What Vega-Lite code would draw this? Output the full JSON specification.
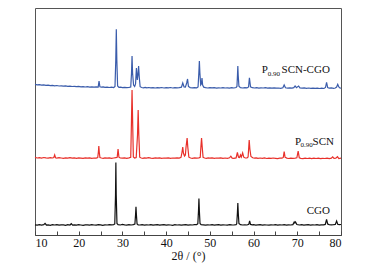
{
"$schema":"https://vega.github.io/schema/vega-lite/v6.json",
"width":306,"height":227,
"autosize":{"type":"none"},
"padding":{"left":35,"top":8,"right":29,"bottom":39},
"background":"white",
"config":{"view":{"stroke":"#555","strokeWidth":1},"font":"Liberation Serif, Times New Roman, serif"},
"datasets":{
"cgo":[
{"x":10.0,"y":10.2},{"x":10.5,"y":9.8},{"x":11.0,"y":10.4},{"x":11.5,"y":9.9},{"x":12.0,"y":10.3},{"x":12.3,"y":11.6},{"x":12.6,"y":10.0},{"x":13.0,"y":10.2},{"x":13.5,"y":9.7},{"x":14.0,"y":10.3},{"x":14.5,"y":10.0},{"x":15.0,"y":10.4},{"x":15.5,"y":9.8},{"x":16.0,"y":10.2},{"x":16.5,"y":10.1},{"x":17.0,"y":9.7},{"x":17.5,"y":10.3},{"x":18.0,"y":10.0},{"x":18.3,"y":11.3},{"x":18.6,"y":9.9},{"x":19.0,"y":10.2},{"x":19.5,"y":9.8},{"x":20.0,"y":10.3},{"x":20.5,"y":10.0},{"x":21.0,"y":9.7},{"x":21.5,"y":10.2},{"x":22.0,"y":10.1},{"x":22.5,"y":9.8},{"x":23.0,"y":10.3},{"x":23.5,"y":10.0},{"x":24.0,"y":9.8},{"x":24.5,"y":10.3},{"x":25.0,"y":10.1},{"x":25.5,"y":9.7},{"x":26.0,"y":10.2},{"x":26.5,"y":10.0},{"x":27.0,"y":10.3},{"x":27.5,"y":10.1},{"x":28.0,"y":10.4},{"x":28.25,"y":11},{"x":28.42,"y":40},{"x":28.5,"y":72.5},{"x":28.58,"y":40},{"x":28.75,"y":11.5},{"x":29.0,"y":10.4},{"x":29.5,"y":10.0},{"x":30.0,"y":10.6},{"x":30.5,"y":10.1},{"x":31.0,"y":9.8},{"x":31.5,"y":10.3},{"x":32.0,"y":10.0},{"x":32.5,"y":10.4},{"x":32.85,"y":11},{"x":33.0,"y":20},{"x":33.1,"y":28.3},{"x":33.2,"y":20},{"x":33.35,"y":11},{"x":33.6,"y":10.2},{"x":34.0,"y":10.0},{"x":34.5,"y":10.3},{"x":35.0,"y":9.8},{"x":35.5,"y":10.2},{"x":36.0,"y":10.0},{"x":36.5,"y":10.4},{"x":37.0,"y":9.8},{"x":37.5,"y":10.1},{"x":38.0,"y":10.3},{"x":38.5,"y":9.8},{"x":39.0,"y":10.1},{"x":39.5,"y":10.3},{"x":40.0,"y":9.9},{"x":40.5,"y":10.2},{"x":41.0,"y":10.0},{"x":41.5,"y":9.7},{"x":42.0,"y":10.3},{"x":42.5,"y":10.0},{"x":43.0,"y":10.2},{"x":43.5,"y":9.8},{"x":44.0,"y":10.1},{"x":44.5,"y":10.3},{"x":45.0,"y":9.9},{"x":45.5,"y":10.2},{"x":46.0,"y":10.0},{"x":46.5,"y":10.3},{"x":47.0,"y":10.4},{"x":47.25,"y":11.2},{"x":47.4,"y":24},{"x":47.5,"y":36.5},{"x":47.6,"y":24},{"x":47.75,"y":11.5},{"x":48.0,"y":10.4},{"x":48.5,"y":10.1},{"x":49.0,"y":9.8},{"x":49.5,"y":10.2},{"x":50.0,"y":10.0},{"x":50.5,"y":10.3},{"x":51.0,"y":9.8},{"x":51.5,"y":10.1},{"x":52.0,"y":10.3},{"x":52.5,"y":9.9},{"x":53.0,"y":10.2},{"x":53.5,"y":10.0},{"x":54.0,"y":9.8},{"x":54.5,"y":10.3},{"x":55.0,"y":10.1},{"x":55.5,"y":10.0},{"x":56.0,"y":10.4},{"x":56.15,"y":11.2},{"x":56.3,"y":22},{"x":56.4,"y":32},{"x":56.5,"y":22},{"x":56.65,"y":11.5},{"x":57.0,"y":10.3},{"x":57.5,"y":10.0},{"x":58.0,"y":10.2},{"x":58.5,"y":10.0},{"x":58.9,"y":10.6},{"x":59.1,"y":14},{"x":59.3,"y":10.6},{"x":59.7,"y":10.1},{"x":60.0,"y":10.3},{"x":60.5,"y":9.9},{"x":61.0,"y":10.1},{"x":61.5,"y":10.3},{"x":62.0,"y":9.9},{"x":62.5,"y":10.2},{"x":63.0,"y":10.0},{"x":63.5,"y":9.8},{"x":64.0,"y":10.2},{"x":64.5,"y":10.0},{"x":65.0,"y":10.3},{"x":65.5,"y":9.9},{"x":66.0,"y":10.2},{"x":66.5,"y":10.0},{"x":67.0,"y":10.3},{"x":67.5,"y":9.9},{"x":68.0,"y":10.2},{"x":68.5,"y":10.0},{"x":69.0,"y":10.4},{"x":69.3,"y":13},{"x":69.45,"y":12},{"x":69.6,"y":13},{"x":69.9,"y":10.5},{"x":70.5,"y":10.0},{"x":71.0,"y":10.3},{"x":71.5,"y":9.9},{"x":72.0,"y":10.1},{"x":72.5,"y":10.3},{"x":73.0,"y":9.9},{"x":73.5,"y":10.2},{"x":74.0,"y":10.0},{"x":74.5,"y":10.3},{"x":75.0,"y":9.9},{"x":75.5,"y":10.2},{"x":76.0,"y":10.1},{"x":76.4,"y":10.6},{"x":76.7,"y":15.5},{"x":76.95,"y":11},{"x":77.3,"y":10.4},{"x":77.8,"y":10.1},{"x":78.3,"y":10.3},{"x":78.7,"y":10.5},{"x":79.0,"y":14},{"x":79.25,"y":10.8},{"x":79.6,"y":10.3},{"x":80.0,"y":10.5}
],
"scn":[
{"x":10.0,"y":77.6},{"x":10.5,"y":77.0},{"x":11.0,"y":77.4},{"x":11.5,"y":76.9},{"x":12.0,"y":77.5},{"x":12.5,"y":77.1},{"x":13.0,"y":76.8},{"x":13.5,"y":77.4},{"x":14.0,"y":77.0},{"x":14.3,"y":77.5},{"x":14.5,"y":80},{"x":14.7,"y":77.3},{"x":15.0,"y":76.9},{"x":15.5,"y":77.3},{"x":16.0,"y":77.0},{"x":16.5,"y":76.7},{"x":17.0,"y":77.2},{"x":17.5,"y":76.9},{"x":18.0,"y":77.3},{"x":18.5,"y":76.8},{"x":19.0,"y":77.1},{"x":19.5,"y":76.7},{"x":20.0,"y":77.2},{"x":20.5,"y":76.9},{"x":21.0,"y":76.6},{"x":21.5,"y":77.1},{"x":22.0,"y":76.8},{"x":22.5,"y":77.2},{"x":23.0,"y":76.7},{"x":23.5,"y":77.0},{"x":24.0,"y":76.9},{"x":24.35,"y":77.4},{"x":24.5,"y":83},{"x":24.6,"y":89},{"x":24.7,"y":83},{"x":24.85,"y":77.5},{"x":25.2,"y":77.0},{"x":25.6,"y":76.6},{"x":26.0,"y":77.1},{"x":26.5,"y":76.8},{"x":27.0,"y":77.2},{"x":27.5,"y":76.7},{"x":28.0,"y":77.0},{"x":28.5,"y":77.3},{"x":28.8,"y":77.8},{"x":29.0,"y":86},{"x":29.2,"y":77.8},{"x":29.5,"y":77.0},{"x":30.0,"y":76.8},{"x":30.5,"y":77.2},{"x":31.0,"y":76.7},{"x":31.5,"y":77.1},{"x":31.9,"y":77.6},{"x":32.05,"y":110},{"x":32.2,"y":145},{"x":32.35,"y":110},{"x":32.5,"y":78},{"x":32.8,"y":77.0},{"x":33.15,"y":77.5},{"x":33.45,"y":100},{"x":33.6,"y":125},{"x":33.75,"y":100},{"x":33.95,"y":77.8},{"x":34.3,"y":77.0},{"x":34.7,"y":76.6},{"x":35.0,"y":77.1},{"x":35.5,"y":76.8},{"x":36.0,"y":77.3},{"x":36.5,"y":76.9},{"x":37.0,"y":76.6},{"x":37.5,"y":77.1},{"x":38.0,"y":76.8},{"x":38.5,"y":77.2},{"x":39.0,"y":76.7},{"x":39.5,"y":77.0},{"x":40.0,"y":76.8},{"x":40.5,"y":77.2},{"x":41.0,"y":76.6},{"x":41.5,"y":77.0},{"x":42.0,"y":76.8},{"x":42.5,"y":77.2},{"x":43.0,"y":76.9},{"x":43.4,"y":77.6},{"x":43.6,"y":82},{"x":43.8,"y":88},{"x":43.95,"y":82},{"x":44.2,"y":79},{"x":44.4,"y":80},{"x":44.55,"y":88},{"x":44.8,"y":97},{"x":44.95,"y":88},{"x":45.2,"y":77.8},{"x":45.6,"y":77.0},{"x":46.0,"y":76.7},{"x":46.5,"y":77.1},{"x":47.0,"y":76.8},{"x":47.5,"y":77.2},{"x":47.8,"y":77.6},{"x":47.95,"y":88},{"x":48.1,"y":97},{"x":48.25,"y":88},{"x":48.45,"y":77.6},{"x":48.8,"y":77.0},{"x":49.2,"y":76.7},{"x":49.6,"y":77.1},{"x":50.0,"y":76.8},{"x":50.5,"y":77.2},{"x":51.0,"y":76.6},{"x":51.5,"y":77.0},{"x":52.0,"y":76.8},{"x":52.5,"y":77.1},{"x":53.0,"y":76.6},{"x":53.5,"y":77.0},{"x":54.0,"y":76.7},{"x":54.5,"y":77.2},{"x":54.8,"y":78.8},{"x":55.1,"y":76.9},{"x":55.5,"y":76.6},{"x":56.0,"y":77.1},{"x":56.3,"y":82.5},{"x":56.55,"y":77.8},{"x":56.8,"y":77.5},{"x":57.0,"y":80},{"x":57.2,"y":77.9},{"x":57.5,"y":82},{"x":57.75,"y":77.8},{"x":58.1,"y":77.0},{"x":58.5,"y":77.2},{"x":58.75,"y":78},{"x":58.9,"y":88},{"x":59.0,"y":95},{"x":59.15,"y":86},{"x":59.4,"y":78.5},{"x":59.8,"y":77.2},{"x":60.2,"y":76.8},{"x":60.6,"y":77.1},{"x":61.0,"y":76.6},{"x":61.5,"y":77.0},{"x":62.0,"y":76.7},{"x":62.5,"y":77.1},{"x":63.0,"y":76.5},{"x":63.5,"y":76.9},{"x":64.0,"y":76.6},{"x":64.5,"y":77.0},{"x":65.0,"y":76.7},{"x":65.5,"y":76.4},{"x":66.0,"y":76.9},{"x":66.5,"y":76.8},{"x":66.8,"y":77.6},{"x":67.0,"y":83.5},{"x":67.2,"y":77.8},{"x":67.6,"y":76.9},{"x":68.0,"y":76.5},{"x":68.5,"y":76.9},{"x":69.0,"y":76.6},{"x":69.5,"y":76.9},{"x":69.9,"y":77.2},{"x":70.2,"y":84},{"x":70.45,"y":77.3},{"x":70.8,"y":76.7},{"x":71.3,"y":76.4},{"x":71.8,"y":76.8},{"x":72.3,"y":76.5},{"x":72.8,"y":76.9},{"x":73.3,"y":76.4},{"x":73.8,"y":76.8},{"x":74.3,"y":76.5},{"x":74.8,"y":76.9},{"x":75.3,"y":76.4},{"x":75.8,"y":76.7},{"x":76.3,"y":76.5},{"x":76.8,"y":76.9},{"x":77.3,"y":76.4},{"x":77.8,"y":76.8},{"x":78.1,"y":78.2},{"x":78.4,"y":76.6},{"x":78.8,"y":76.9},{"x":79.2,"y":78.3},{"x":79.5,"y":76.5},{"x":80.0,"y":76.8}
],
"mix":[
{"x":10.0,"y":150.6},{"x":10.5,"y":150.2},{"x":11.0,"y":150.4},{"x":11.5,"y":149.9},{"x":12.0,"y":150.1},{"x":12.5,"y":149.7},{"x":13.0,"y":149.9},{"x":13.5,"y":149.4},{"x":14.0,"y":149.6},{"x":14.5,"y":149.2},{"x":15.0,"y":149.5},{"x":15.5,"y":149.0},{"x":16.0,"y":149.2},{"x":16.5,"y":148.8},{"x":17.0,"y":149.1},{"x":17.5,"y":148.6},{"x":18.0,"y":148.9},{"x":18.5,"y":148.5},{"x":19.0,"y":148.7},{"x":19.5,"y":148.3},{"x":20.0,"y":148.6},{"x":20.5,"y":148.2},{"x":21.0,"y":148.4},{"x":21.5,"y":148.0},{"x":22.0,"y":148.3},{"x":22.5,"y":147.9},{"x":23.0,"y":148.2},{"x":23.5,"y":147.8},{"x":24.0,"y":148.1},{"x":24.45,"y":148.0},{"x":24.65,"y":154},{"x":24.85,"y":148.2},{"x":25.2,"y":147.8},{"x":25.6,"y":148.1},{"x":26.0,"y":147.6},{"x":26.5,"y":147.9},{"x":27.0,"y":147.5},{"x":27.5,"y":147.8},{"x":28.0,"y":147.5},{"x":28.3,"y":148.5},{"x":28.48,"y":175},{"x":28.6,"y":205.7},{"x":28.72,"y":175},{"x":28.9,"y":149},{"x":29.2,"y":147.6},{"x":29.6,"y":147.9},{"x":30.0,"y":147.4},{"x":30.5,"y":147.7},{"x":31.0,"y":147.3},{"x":31.5,"y":147.6},{"x":31.9,"y":148.0},{"x":32.08,"y":162},{"x":32.2,"y":179},{"x":32.32,"y":162},{"x":32.55,"y":150},{"x":32.8,"y":148.5},{"x":33.0,"y":151},{"x":33.2,"y":167},{"x":33.4,"y":155},{"x":33.55,"y":160},{"x":33.7,"y":169},{"x":33.85,"y":158},{"x":34.05,"y":148.3},{"x":34.4,"y":147.5},{"x":34.8,"y":147.2},{"x":35.2,"y":147.6},{"x":35.6,"y":147.2},{"x":36.0,"y":147.5},{"x":36.5,"y":147.1},{"x":37.0,"y":147.4},{"x":37.5,"y":147.0},{"x":38.0,"y":147.4},{"x":38.5,"y":147.1},{"x":39.0,"y":147.5},{"x":39.5,"y":147.0},{"x":40.0,"y":147.3},{"x":40.5,"y":147.1},{"x":41.0,"y":147.5},{"x":41.5,"y":147.0},{"x":42.0,"y":147.3},{"x":42.5,"y":147.1},{"x":43.0,"y":147.4},{"x":43.5,"y":147.8},{"x":43.8,"y":152},{"x":44.1,"y":148},{"x":44.4,"y":147.8},{"x":44.7,"y":152},{"x":44.9,"y":156},{"x":45.1,"y":148.5},{"x":45.5,"y":147.4},{"x":46.0,"y":147.1},{"x":46.5,"y":147.4},{"x":47.0,"y":147.2},{"x":47.3,"y":148},{"x":47.48,"y":162},{"x":47.6,"y":174},{"x":47.72,"y":162},{"x":47.9,"y":150},{"x":48.05,"y":151},{"x":48.2,"y":157},{"x":48.35,"y":150},{"x":48.6,"y":147.8},{"x":49.0,"y":147.3},{"x":49.5,"y":147.0},{"x":50.0,"y":147.4},{"x":50.5,"y":147.1},{"x":51.0,"y":147.3},{"x":51.5,"y":146.9},{"x":52.0,"y":147.2},{"x":52.5,"y":147.0},{"x":53.0,"y":147.4},{"x":53.5,"y":147.0},{"x":54.0,"y":147.2},{"x":54.5,"y":146.9},{"x":55.0,"y":147.3},{"x":55.5,"y":147.0},{"x":56.0,"y":147.5},{"x":56.2,"y":148.5},{"x":56.32,"y":160},{"x":56.4,"y":169},{"x":56.48,"y":160},{"x":56.65,"y":148.8},{"x":57.0,"y":147.4},{"x":57.5,"y":147.0},{"x":58.0,"y":147.3},{"x":58.5,"y":147.1},{"x":58.85,"y":148},{"x":59.05,"y":157.3},{"x":59.3,"y":148.2},{"x":59.7,"y":147.3},{"x":60.2,"y":147.0},{"x":60.7,"y":147.3},{"x":61.2,"y":146.9},{"x":61.7,"y":147.2},{"x":62.2,"y":147.0},{"x":62.7,"y":147.3},{"x":63.2,"y":146.9},{"x":63.7,"y":147.1},{"x":64.2,"y":146.8},{"x":64.7,"y":147.1},{"x":65.2,"y":146.8},{"x":65.7,"y":147.0},{"x":66.2,"y":146.7},{"x":66.7,"y":147.2},{"x":67.0,"y":150},{"x":67.3,"y":147.2},{"x":67.8,"y":146.9},{"x":68.3,"y":147.2},{"x":68.8,"y":146.8},{"x":69.2,"y":147.3},{"x":69.5,"y":149},{"x":69.8,"y":147.3},{"x":70.3,"y":149},{"x":70.6,"y":147.1},{"x":71.1,"y":146.8},{"x":71.6,"y":147.1},{"x":72.1,"y":146.7},{"x":72.6,"y":147.0},{"x":73.1,"y":146.6},{"x":73.6,"y":146.9},{"x":74.1,"y":146.6},{"x":74.6,"y":146.9},{"x":75.1,"y":146.5},{"x":75.6,"y":146.8},{"x":76.1,"y":146.5},{"x":76.45,"y":147.5},{"x":76.7,"y":152.7},{"x":76.95,"y":147.5},{"x":77.3,"y":146.8},{"x":77.8,"y":147.1},{"x":78.3,"y":146.6},{"x":78.7,"y":147.0},{"x":79.0,"y":148},{"x":79.25,"y":150.7},{"x":79.5,"y":148},{"x":79.8,"y":146.8},{"x":80.0,"y":147.0}
],
"lab":[
{"x":61.87,"y":161.7,"t":"P","k":"m"},{"x":63.25,"y":159,"t":"0.90","k":"s"},{"x":66.4,"y":161.7,"t":"SCN-CGO","k":"m"},
{"x":69.48,"y":90,"t":"P","k":"m"},{"x":70.75,"y":87.7,"t":"0.90","k":"s"},{"x":73.5,"y":90,"t":"SCN","k":"m"},
{"x":72.16,"y":21.3,"t":"CGO","k":"m"}
]
},
"encoding":{
"x":{"field":"x","type":"quantitative","scale":{"domain":[10,80],"nice":false,"zero":false},
"axis":{"values":[10,15,20,25,30,35,40,45,50,55,60,65,70,75,80],"labelExpr":"datum.value % 10 === 0 ? datum.label : ''","tickSize":-4,"labelPadding":6,"domainColor":"#444","tickColor":"#444","labelFontSize":12,"labelColor":"#111","labelFont":"Liberation Serif, Times New Roman, serif","grid":false,"title":"2θ / (°)","titleFont":"Liberation Serif, Times New Roman, serif","titleFontSize":12,"titleFontWeight":"normal","titleColor":"#111","titlePadding":2}},
"y":{"field":"y","type":"quantitative","scale":{"domain":[0,227],"zero":false,"nice":false},"axis":null}
},
"layer":[
{"data":{"name":"cgo"},"mark":{"type":"line","color":"#111111","strokeWidth":1.2}},
{"data":{"name":"scn"},"mark":{"type":"line","color":"#e8302a","strokeWidth":1.2}},
{"data":{"name":"mix"},"mark":{"type":"line","color":"#3a5cab","strokeWidth":1.2}},
{"data":{"name":"lab"},"transform":[{"filter":"datum.k == 'm'"}],"mark":{"type":"text","align":"left","baseline":"alphabetic","fontSize":11,"font":"Liberation Serif, Times New Roman, serif","color":"#111"},"encoding":{"text":{"field":"t"}}},
{"data":{"name":"lab"},"transform":[{"filter":"datum.k == 's'"}],"mark":{"type":"text","align":"left","baseline":"alphabetic","fontSize":7,"font":"Liberation Serif, Times New Roman, serif","color":"#111"},"encoding":{"text":{"field":"t"}}}
]
}
